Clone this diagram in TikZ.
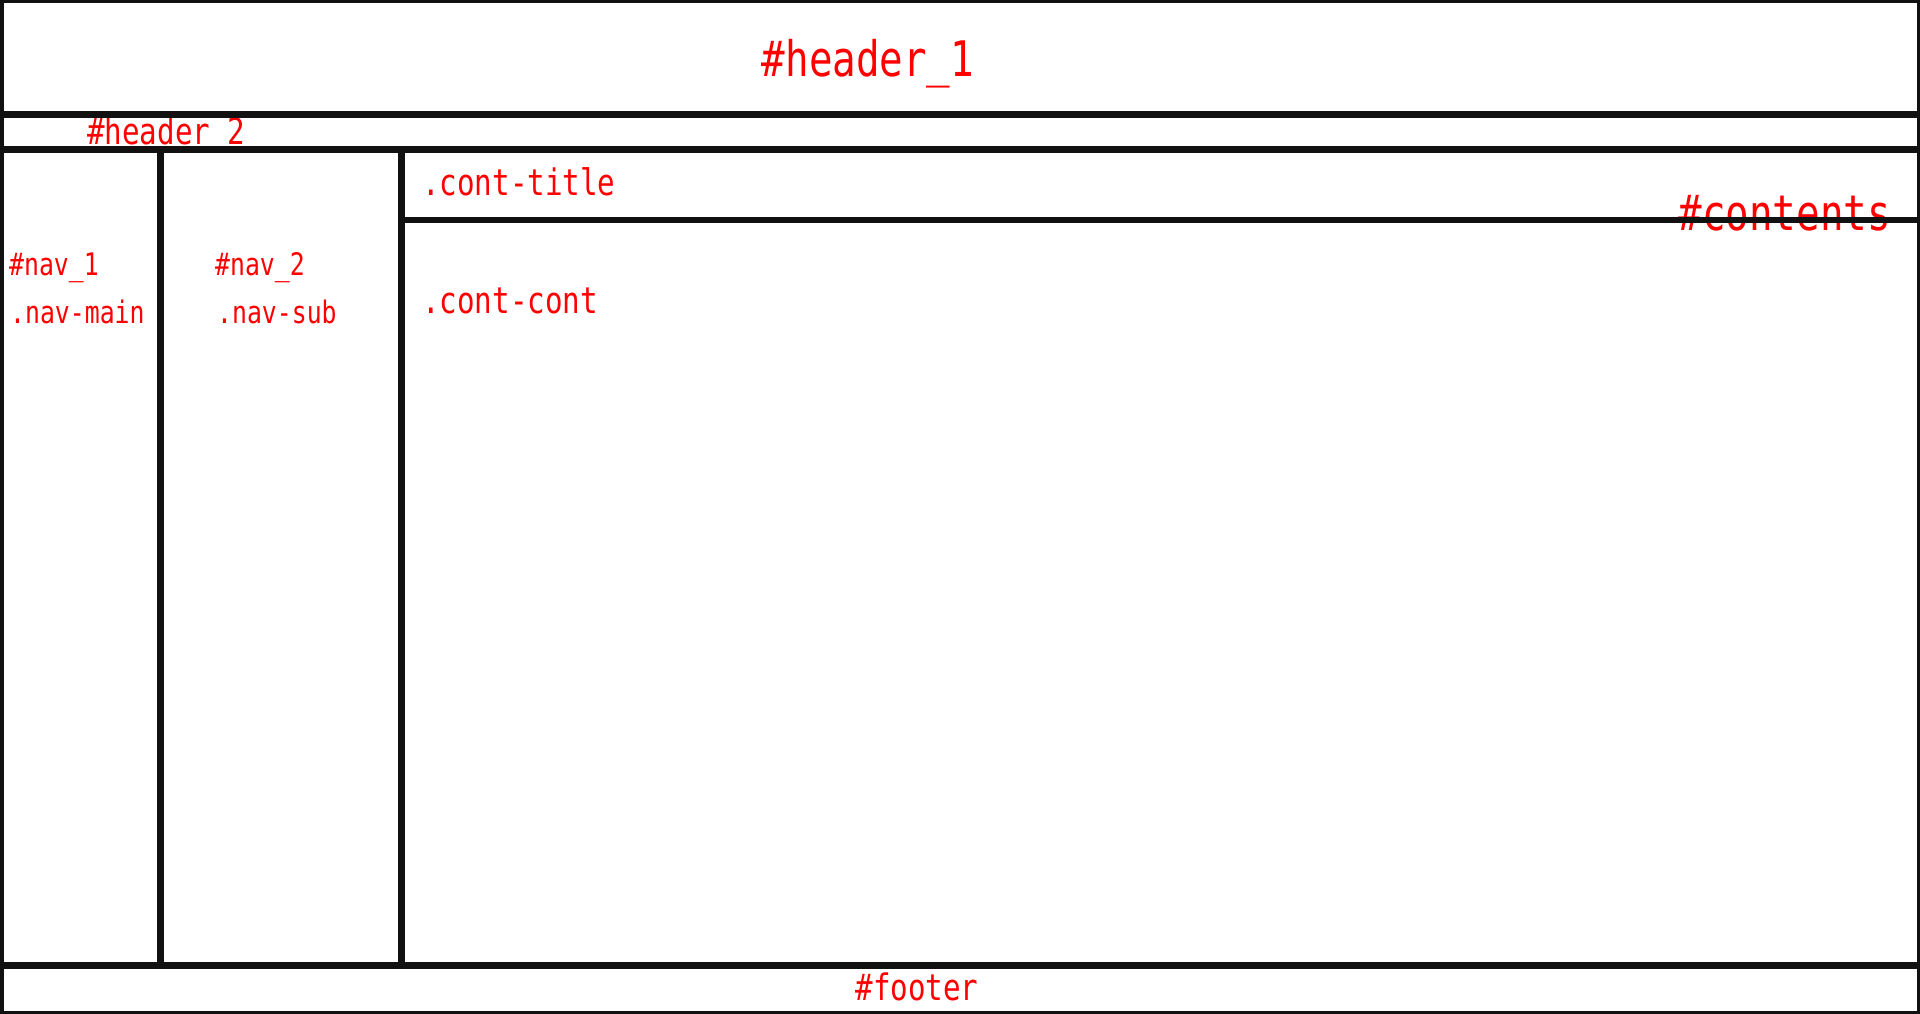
\documentclass[tikz,border=0pt]{standalone}
\usepackage{fontspec}
\newfontfamily\codefont[FakeStretch=0.8]{DejaVu Sans Mono}
\usetikzlibrary{positioning}
\definecolor{boxline}{RGB}{17,17,17}
\tikzset{
  bigtag/.style={text=red, font=\codefont\fontsize{49}{50}\selectfont, inner sep=0pt},
  midtag/.style={text=red, font=\codefont\fontsize{36.5}{38}\selectfont, inner sep=0pt, anchor=base west},
  smalltag/.style={text=red, font=\codefont\fontsize{31}{32}\selectfont, inner sep=0pt, anchor=base west},
  wall/.style={draw=boxline, line width=7pt}
}

\begin{document}
\begin{tikzpicture}[x=1pt, y=-1pt]
            \useasboundingbox (0,0) rectangle (1920,1014);
            \fill[white] (0,0) rectangle (1920,1014);
            % labels
            \node[bigtag, anchor=base] (hdrone) at (868,77) {\#header\_1};
            \node[midtag] (hdrtwo) at (87,145) {\#header\_2};
            \node[smalltag] (navone) at (9,275) {\#nav\_1};
            \node[smalltag] (navmain) at (10,323) {.nav-main};
            \node[smalltag] (navtwo) at (215,275) {\#nav\_2};
            \node[smalltag] (navsub) at (217,323) {.nav-sub};
            \node[midtag] (conttitle) at (422,195) {.cont-title};
            \node[midtag] (contcont) at (422,313) {.cont-cont};
            \node[bigtag, anchor=base east] (contents) at (1891,230) {\#contents};
            \node[midtag, anchor=base] (footer) at (917,1000) {\#footer};
            % boxes
            \draw[wall] (0,0) rectangle (1920,1014);
            \draw[wall] (0,115) -- (1920,115);
            \draw[wall] (0,150) -- (1920,150);
            \draw[wall] (0,965) -- (1920,965);
            \draw[wall] (160.5,150) -- (160.5,965);
            \draw[wall] (401,150) -- (401,965);
            \draw[wall, line width=6pt] (401,220) -- (1920,220);
\end{tikzpicture}
\end{document}
